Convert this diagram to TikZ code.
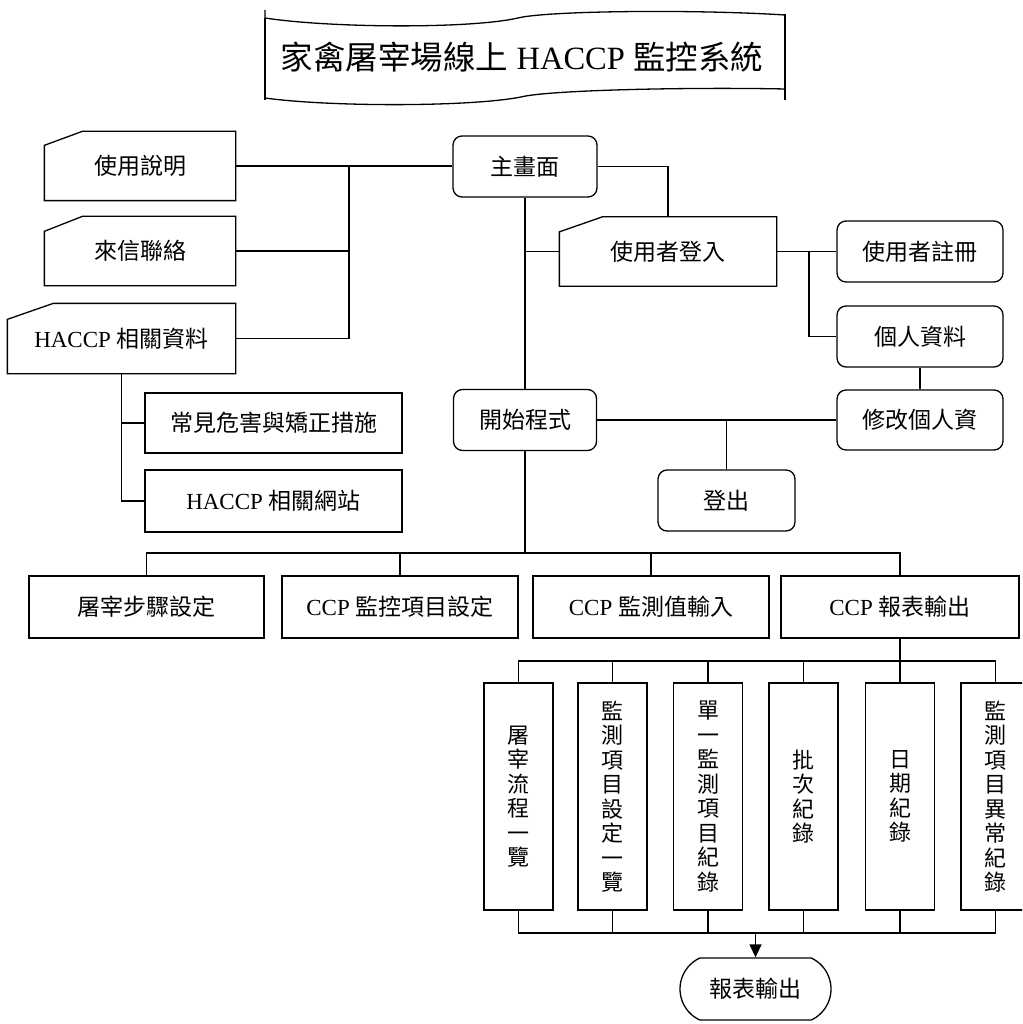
\documentclass[tikz,border=0pt]{standalone}
\usepackage{fontspec}
\setmainfont{Liberation Serif}
\newfontfamily\cjk{Noto Sans CJK TC}
\usetikzlibrary{arrows.meta,shapes.misc,calc}
\begin{document}
\begin{tikzpicture}[x=1pt,y=-1pt,line width=1.3pt,
  sz/.style 2 args={minimum width=#1pt,minimum height=#2pt},
  txt/.style={inner sep=0pt,font=\fontsize{23}{26}\selectfont\cjk},
  rbox/.style={txt,draw,rounded corners=9pt},
  sbox/.style={txt,draw},
  cardbox/.style={txt},
  vbox/.style={draw,inner sep=0pt,minimum width=69pt,minimum height=227pt,align=center,font=\fontsize{22}{24.5}\selectfont\cjk},
  term/.style={txt,draw,rounded rectangle,rounded rectangle arc length=130},
  conn/.style={draw,line width=1.3pt}]
\useasboundingbox (0,0) rectangle (1022,1024);
\clip (0,0) rectangle (1022,1024);

% title banner
\draw (265,10) -- (265,18) .. controls (330,28) and (470,29) .. (518,18)
  .. controls (545,11) and (690,9) .. (785,15);
\draw (265,18) -- (265,100);
\draw (265,98) .. controls (330,107) and (470,107) .. (521,97)
  .. controls (548,90) and (690,87) .. (785,89);
\draw (785,14) -- (785,100);
\node[inner sep=0pt,font=\fontsize{32.5}{38}\selectfont] (title) at (522,57)
  {{\cjk 家禽屠宰場線上} HACCP {\cjk 監控系統}};

% left cards
\node[cardbox,sz={190}{68}] (shuoming) at (140,166) {使用說明};
\node[cardbox,sz={190}{68}] (laixin) at (140,251) {來信聯絡};
\node[cardbox,sz={227}{69},font=\fontsize{23}{26}\selectfont] (haccp) at (121.5,338.5) {HACCP {\cjk 相關資料}};
\foreach \n/\dx/\dy in {shuoming/38/14,laixin/38/15,haccp/46/16}{
  \draw (\n.south west) -- ([yshift=-\dy pt]\n.north west) -- ([xshift=\dx pt]\n.north west)
    -- (\n.north east) -- (\n.south east) -- cycle;
}
\node[sbox,sz={257}{60}] (weihai) at (273.5,423) {常見危害與矯正措施};
\node[sbox,sz={257}{62},font=\fontsize{23}{26}\selectfont] (wangzhan) at (273.5,501) {HACCP {\cjk 相關網站}};

% centre column
\node[rbox,sz={144}{61}] (main) at (525,166.5) {主畫面};
\node[cardbox,sz={216}{68}] (login) at (668,251.5) {使用者登入};
\draw (login.south west) -- ([yshift=-15pt]login.north west) -- ([xshift=43pt]login.north west)
  -- (login.north east) -- (login.south east) -- cycle;
\node[rbox,sz={166}{61}] (reg) at (920,251.5) {使用者註冊};
\node[rbox,sz={166}{61}] (info) at (920,336.5) {個人資料};
\node[rbox,sz={166}{60}] (edit) at (920,420) {修改個人資};
\node[rbox,sz={143}{61}] (start) at (525,420) {開始程式};
\node[rbox,sz={137}{61}] (logout) at (726.5,500.5) {登出};

% second row
\node[sbox,sz={235}{62}] (b1) at (146.5,607) {屠宰步驟設定};
\node[sbox,sz={236}{62},font=\fontsize{23}{26}\selectfont] (b2) at (400,607) {CCP {\cjk 監控項目設定}};
\node[sbox,sz={236}{62},font=\fontsize{23}{26}\selectfont] (b3) at (651,607) {CCP {\cjk 監測值輸入}};
\node[sbox,sz={238}{62},font=\fontsize{23}{26}\selectfont] (b4) at (900,607) {CCP {\cjk 報表輸出}};

% vertical boxes
\node[vbox] (v1) at (518.5,796.5) {屠\\宰\\流\\程\\一\\覽};
\node[vbox] (v2) at (612.5,796.5) {監\\測\\項\\目\\設\\定\\一\\覽};
\node[vbox] (v3) at (708,796.5) {單\\一\\監\\測\\項\\目\\紀\\錄};
\node[vbox] (v4) at (803.5,796.5) {批\\次\\紀\\錄};
\node[vbox] (v5) at (900,796.5) {日\\期\\紀\\錄};
\node[vbox] (v6) at (995.5,796.5) {監\\測\\項\\目\\異\\常\\紀\\錄};

\node[term,sz={151}{62}] (out) at (755.5,989) {報表輸出};

% connectors
\coordinate (jl) at (349,0);
\draw (shuoming.east) -- (main.west |- shuoming.east);
\draw (laixin.east) -- (laixin.east -| jl);
\draw (haccp.east) -| (jl |- shuoming.east);
\draw (haccp.south) |- (wangzhan.west);
\draw (weihai.west) -- (weihai.west -| haccp.south);

\draw (main.east) -| (login.north);
\draw (main.south) -- (start.north);
\draw (login.west) -- (login.west -| main.south);
\coordinate (jr) at (809,0);
\draw (login.east) -- (reg.west);
\draw (jr |- login.east) |- (info.west);
\draw (info.south) -- (edit.north);
\draw (start.east) -- (edit.west);
\draw (logout.north) -- (logout.north |- start.east);

\coordinate (bus1) at (0,553);
\draw (start.south) -- (start.south |- bus1);
\draw (b1.north) -- (b1.north |- bus1) -- (b4.north |- bus1) -- (b4.north);
\draw (b2.north) -- (b2.north |- bus1);
\draw (b3.north) -- (b3.north |- bus1);

\coordinate (bus2) at (0,661);
\draw (b4.south) -- (b4.south |- bus2);
\draw (v1.north) -- (v1.north |- bus2) -- (v6.north |- bus2) -- (v6.north);
\foreach \v in {v2,v3,v4,v5}{\draw (\v.north) -- (\v.north |- bus2);}

\coordinate (bus3) at (0,933);
\draw (v1.south) -- (v1.south |- bus3) -- (v6.south |- bus3) -- (v6.south);
\foreach \v in {v2,v3,v4,v5}{\draw (\v.south) -- (\v.south |- bus3);}
\draw[-{Triangle[length=13pt,width=12pt]}] (out.north |- bus3) -- (out.north);
\end{tikzpicture}
\end{document}
